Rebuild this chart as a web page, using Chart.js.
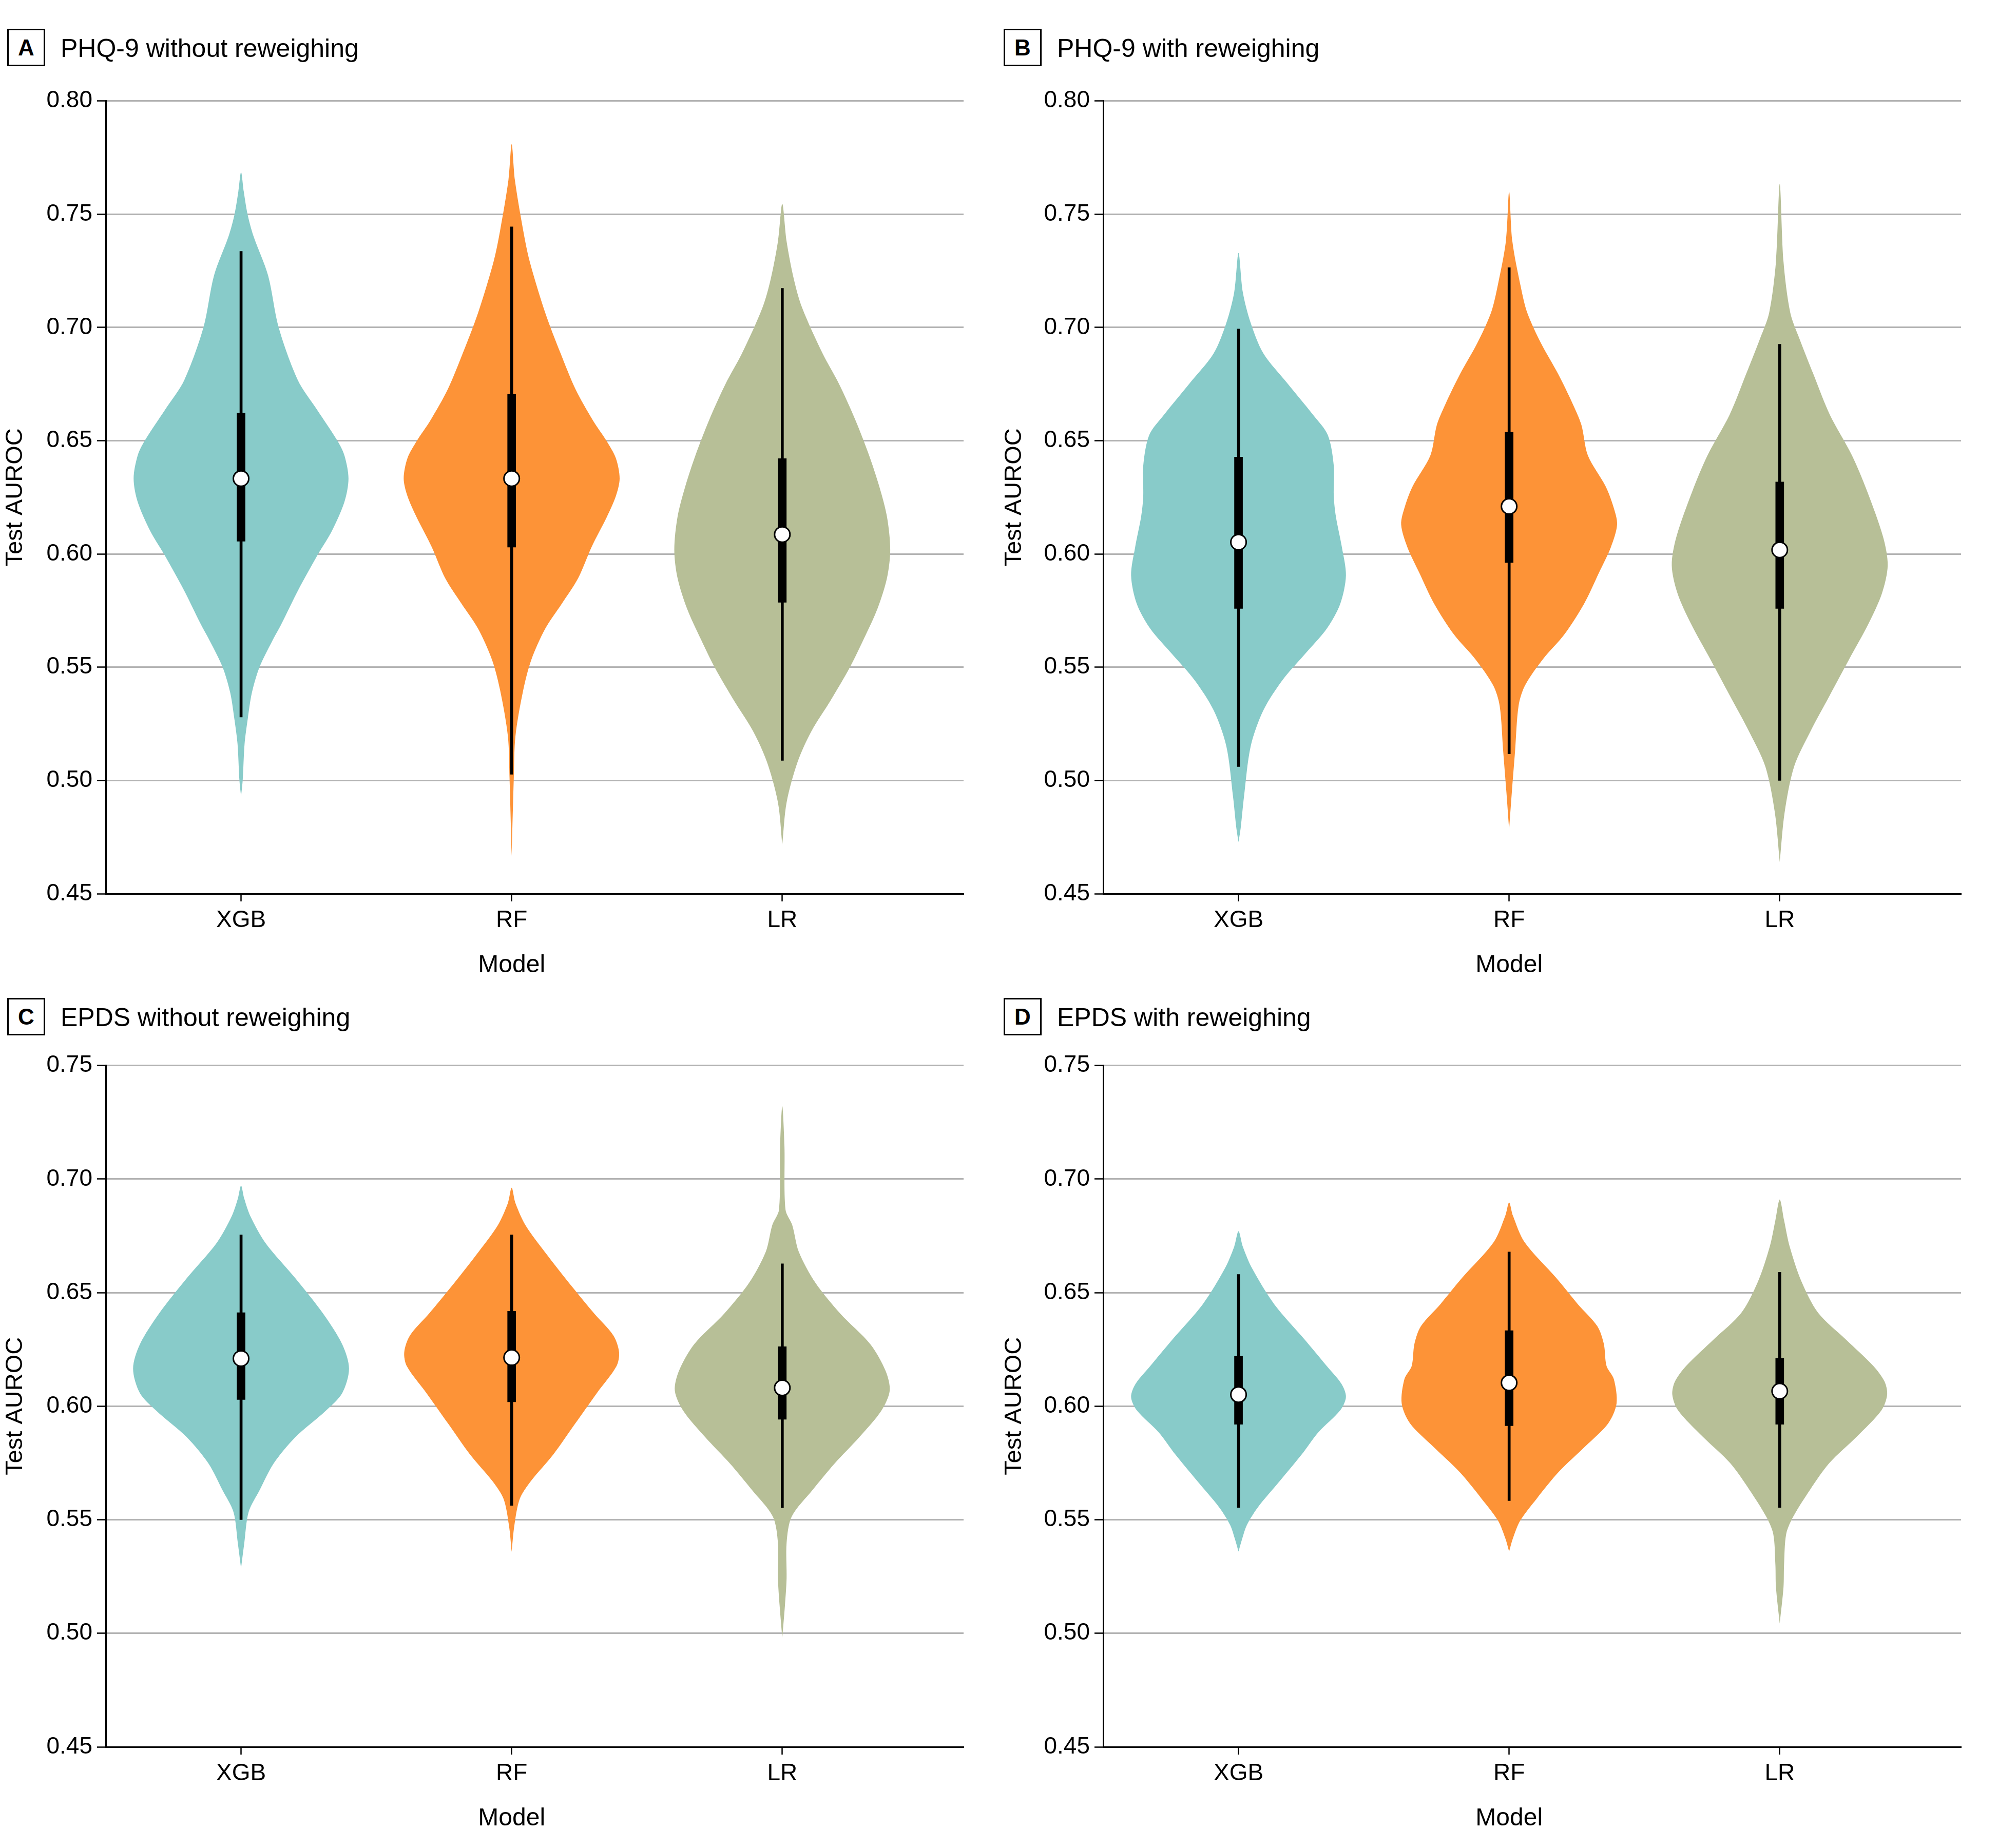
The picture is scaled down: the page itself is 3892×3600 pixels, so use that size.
<!DOCTYPE html>
<html>
<head>
<meta charset="utf-8">
<script src="https://cdn.jsdelivr.net/npm/chart.js@4.4.1/dist/chart.umd.min.js"></script>
<style>
  body { margin: 0; background: #fff; width: 3892px; height: 3600px; position: relative; font-family: 'Liberation Sans', Arial, sans-serif; color: #000; }
  .tag { position: absolute; width: 68px; height: 67px; border: 3px solid #000; font-weight: bold; font-size: 44px; line-height: 67px; text-align: center; }
  .title { position: absolute; font-size: 50px; line-height: 50px; white-space: nowrap; }
  canvas { position: absolute; }
</style>
</head>
<body>
<div class="tag" style="left:14px;top:56px">A</div>
<div class="title" style="left:118px;top:69px">PHQ-9 without reweighing</div>
<div class="tag" style="left:1955px;top:56px">B</div>
<div class="title" style="left:2059px;top:69px">PHQ-9 with reweighing</div>
<div class="tag" style="left:14px;top:1944px">C</div>
<div class="title" style="left:118px;top:1957px">EPDS without reweighing</div>
<div class="tag" style="left:1955px;top:1944px">D</div>
<div class="title" style="left:2059px;top:1957px">EPDS with reweighing</div>

<canvas id="chartA" width="1946" height="1760" style="left:0;top:160px"></canvas>
<canvas id="chartB" width="1946" height="1760" style="left:1946px;top:160px"></canvas>
<canvas id="chartC" width="1946" height="1543" style="left:0;top:2039px"></canvas>
<canvas id="chartD" width="1946" height="1543" style="left:1946px;top:2039px"></canvas>

<script>
const models = ['XGB', 'RF', 'LR'];
const colors = ['#88cbc9', '#fd9337', '#b7bf97'];
const yTicksPhq = [0.45, 0.50, 0.55, 0.60, 0.65, 0.70, 0.75, 0.80];
const yTicksEpds = [0.45, 0.50, 0.55, 0.60, 0.65, 0.70, 0.75];

// violin outlines: [test AUROC, half width in model units], bottom tip -> top tip
const phqRawXGB = [[0.493,0],[0.50,0.006],[0.5161,0.013],[0.5274,0.025],[0.5387,0.04],[0.55,0.068],[0.5613,0.114],[0.5688,0.148],[0.584,0.211],[0.60,0.285],[0.61,0.335],[0.623,0.382],[0.6333,0.397],[0.6435,0.382],[0.65,0.356],[0.664,0.279],[0.6767,0.21],[0.70,0.139],[0.7229,0.1],[0.7403,0.046],[0.75,0.024],[0.76,0.01],[0.7685,0]];
const phqRawRF = [[0.4667,0],[0.5016,0.008],[0.5196,0.014],[0.54,0.043],[0.5534,0.073],[0.567,0.124],[0.578,0.185],[0.5894,0.246],[0.603,0.295],[0.6164,0.352],[0.6255,0.385],[0.6333,0.399],[0.6423,0.385],[0.65,0.35],[0.659,0.3],[0.6727,0.236],[0.6885,0.181],[0.7065,0.124],[0.729,0.067],[0.7426,0.043],[0.765,0.012],[0.7809,0]];
const phqRawLR = [[0.4716,0],[0.4903,0.016],[0.5083,0.057],[0.5218,0.108],[0.5354,0.179],[0.55,0.25],[0.5624,0.301],[0.5759,0.352],[0.5894,0.387],[0.6018,0.399],[0.6164,0.387],[0.63,0.358],[0.6435,0.321],[0.6592,0.27],[0.675,0.21],[0.6885,0.149],[0.7088,0.073],[0.7212,0.043],[0.738,0.016],[0.7545,0]];

const phqRwXGB = [[0.4728,0],[0.479,0.008],[0.4926,0.02],[0.5151,0.045],[0.531,0.092],[0.5444,0.163],[0.5556,0.244],[0.567,0.326],[0.578,0.376],[0.5905,0.397],[0.603,0.382],[0.6164,0.36],[0.6255,0.352],[0.639,0.352],[0.6525,0.33],[0.6615,0.275],[0.675,0.183],[0.6885,0.092],[0.702,0.045],[0.7155,0.016],[0.7329,0]];
const phqRwRF = [[0.4784,0],[0.4948,0.01],[0.513,0.022],[0.533,0.035],[0.542,0.059],[0.5534,0.124],[0.5646,0.205],[0.578,0.277],[0.5917,0.332],[0.603,0.376],[0.613,0.399],[0.621,0.385],[0.63,0.356],[0.6435,0.291],[0.657,0.267],[0.666,0.236],[0.6795,0.181],[0.693,0.118],[0.7065,0.067],[0.718,0.043],[0.738,0.012],[0.7599,0]];
const phqRwLR = [[0.464,0],[0.4858,0.018],[0.5061,0.053],[0.5218,0.114],[0.5376,0.185],[0.5534,0.256],[0.5692,0.328],[0.5827,0.378],[0.595,0.399],[0.6075,0.382],[0.6277,0.323],[0.6435,0.267],[0.6615,0.185],[0.6795,0.124],[0.695,0.073],[0.7065,0.039],[0.729,0.014],[0.7633,0]];

const epdsRawXGB = [[0.5287,0],[0.5398,0.012],[0.5534,0.028],[0.5631,0.069],[0.5747,0.12],[0.5864,0.201],[0.598,0.313],[0.6058,0.374],[0.6165,0.399],[0.6272,0.374],[0.6408,0.303],[0.6563,0.201],[0.6719,0.09],[0.6835,0.035],[0.6913,0.012],[0.6971,0]];
const epdsRawRF = [[0.5359,0],[0.5475,0.01],[0.5592,0.03],[0.567,0.071],[0.5786,0.153],[0.5922,0.234],[0.6058,0.315],[0.6175,0.387],[0.6237,0.397],[0.6311,0.376],[0.6408,0.305],[0.6525,0.224],[0.668,0.122],[0.6797,0.051],[0.6894,0.014],[0.6962,0]];
const epdsRawLR = [[0.498,0],[0.5125,0.01],[0.5242,0.016],[0.5398,0.016],[0.5514,0.035],[0.5631,0.112],[0.5747,0.193],[0.5864,0.285],[0.598,0.366],[0.6068,0.397],[0.6155,0.382],[0.6272,0.326],[0.6408,0.214],[0.6544,0.122],[0.668,0.061],[0.6797,0.037],[0.6865,0.012],[0.7146,0.008],[0.7321,0]];

const epdsRwXGB = [[0.536,0],[0.5418,0.014],[0.5477,0.031],[0.5554,0.071],[0.5671,0.153],[0.5788,0.234],[0.5885,0.295],[0.5982,0.376],[0.6041,0.397],[0.6099,0.38],[0.6177,0.326],[0.6294,0.244],[0.6449,0.132],[0.6605,0.051],[0.6702,0.016],[0.677,0]];
const epdsRwRF = [[0.536,0],[0.5418,0.014],[0.5496,0.041],[0.5593,0.102],[0.571,0.183],[0.5827,0.285],[0.5924,0.366],[0.6012,0.397],[0.6119,0.387],[0.6177,0.36],[0.6274,0.35],[0.6352,0.326],[0.6449,0.254],[0.6566,0.173],[0.6722,0.057],[0.6839,0.014],[0.6897,0]];
const epdsRwLR = [[0.5043,0],[0.5204,0.014],[0.5302,0.016],[0.5438,0.024],[0.5516,0.051],[0.5632,0.112],[0.5749,0.183],[0.5866,0.285],[0.5982,0.376],[0.6051,0.397],[0.6109,0.387],[0.6177,0.346],[0.6294,0.244],[0.6411,0.142],[0.6547,0.081],[0.6702,0.037],[0.6819,0.016],[0.691,0]];

// box stats per model (XGB, RF, LR): [low whisker, Q1, median, Q3, high whisker]
const phqRawBox = [[0.528,0.6056,0.6333,0.6622,0.7336],[0.5027,0.603,0.6333,0.6705,0.7444],[0.5088,0.5786,0.6086,0.6421,0.7173]];
const phqRwBox = [[0.5061,0.5759,0.6052,0.6428,0.6993],[0.5117,0.5962,0.621,0.6538,0.7264],[0.50,0.5759,0.6018,0.6318,0.6926]];
const epdsRawBox = [[0.55,0.6029,0.621,0.6412,0.6754],[0.5563,0.6019,0.6214,0.6418,0.6754],[0.5553,0.5942,0.6081,0.6262,0.6627]];
const epdsRwBox = [[0.5554,0.592,0.6051,0.622,0.658],[0.5584,0.5914,0.6103,0.6333,0.6679],[0.5554,0.592,0.6066,0.621,0.659]];

Chart.defaults.font.family = "'Liberation Sans', Arial, sans-serif";
Chart.defaults.color = '#000';

// x axis title sits under the middle model (RF), not the middle of the spine
const modelTitle = {
  id: 'modelTitle',
  afterDraw(chart) {
    const x = chart.scales.x;
    const ctx = chart.ctx;
    ctx.save();
    ctx.font = "48px 'Liberation Sans', Arial, sans-serif";
    ctx.fillStyle = '#000';
    ctx.textAlign = 'center';
    ctx.textBaseline = 'alphabetic';
    ctx.fillText('Model', x.getPixelForValue(1), x.top + 153);
    ctx.restore();
  }
};

function violinPoints(outline, i) {
  // right side going up, then left side coming back down
  const right = outline.map(([y, w]) => ({ x: i + w, y: y }));
  const left = outline.slice(0, -1).reverse().map(([y, w]) => ({ x: i - w, y: y }));
  return right.concat(left);
}

function makeChart(id, outlines, box, yTicks, axisWidth, padRight) {
  const datasets = outlines.map((o, i) => ({
    type: 'line',
    data: violinPoints(o, i),
    backgroundColor: colors[i],
    borderWidth: 0,
    pointRadius: 0,
    fill: 'shape',
    tension: 0.3,
    order: 4
  }));

  datasets.push({
    type: 'bar',
    data: box.map((b, i) => ({ x: i, y: [b[0], b[4]] })),
    backgroundColor: '#000',
    barThickness: 5,
    grouped: false,
    order: 3
  });
  datasets.push({
    type: 'bar',
    data: box.map((b, i) => ({ x: i, y: [b[1], b[3]] })),
    backgroundColor: '#000',
    barThickness: 16,
    grouped: false,
    order: 2
  });
  datasets.push({
    type: 'scatter',
    data: box.map((b, i) => ({ x: i, y: b[2] })),
    pointRadius: 15,
    pointBackgroundColor: '#fff',
    pointBorderColor: '#000',
    pointBorderWidth: 3,
    order: 1
  });

  return new Chart(document.getElementById(id), {
    type: 'scatter',
    data: { datasets },
    plugins: [modelTitle],
    options: {
      responsive: false,
      animation: false,
      layout: { padding: { top: 36, right: padRight, left: 0, bottom: 0 } },
      plugins: { legend: { display: false }, tooltip: { enabled: false } },
      scales: {
        x: {
          type: 'linear',
          offset: false,
          min: -0.5,
          max: 2.67,
          afterBuildTicks: (axis) => { axis.ticks = [0, 1, 2].map(v => ({ value: v })); },
          afterFit: (axis) => { axis.height = 179; },
          ticks: { callback: (v) => models[v], padding: 10, maxRotation: 0, font: { size: 46 } },
          grid: { offset: false, drawOnChartArea: false, tickLength: 15, tickWidth: 2.5, tickColor: '#000' },
          border: { color: '#000', width: 3 },
          title: { display: false }
        },
        y: {
          beginAtZero: false,
          min: yTicks[0],
          max: yTicks[yTicks.length - 1],
          afterBuildTicks: (axis) => { axis.ticks = yTicks.map(v => ({ value: v })); },
          afterFit: (axis) => { axis.width = axisWidth; },
          ticks: { callback: (v) => v.toFixed(2), padding: 9, font: { size: 46 } },
          grid: { color: '#b3b3b3', lineWidth: 3, tickColor: '#000', tickLength: 17, tickWidth: 2.5 },
          border: { color: '#000', width: 3 },
          title: { display: true, text: 'Test AUROC', font: { size: 47 }, padding: { top: 2, bottom: 0 } }
        }
      }
    }
  });
}

makeChart('chartA', [phqRawXGB, phqRawRF, phqRawLR], phqRawBox, yTicksPhq, 206, 69);
makeChart('chartB', [phqRwXGB, phqRwRF, phqRwLR], phqRwBox, yTicksPhq, 203, 72);
makeChart('chartC', [epdsRawXGB, epdsRawRF, epdsRawLR], epdsRawBox, yTicksEpds, 206, 69);
makeChart('chartD', [epdsRwXGB, epdsRwRF, epdsRwLR], epdsRwBox, yTicksEpds, 203, 72);
</script>
</body>
</html>
